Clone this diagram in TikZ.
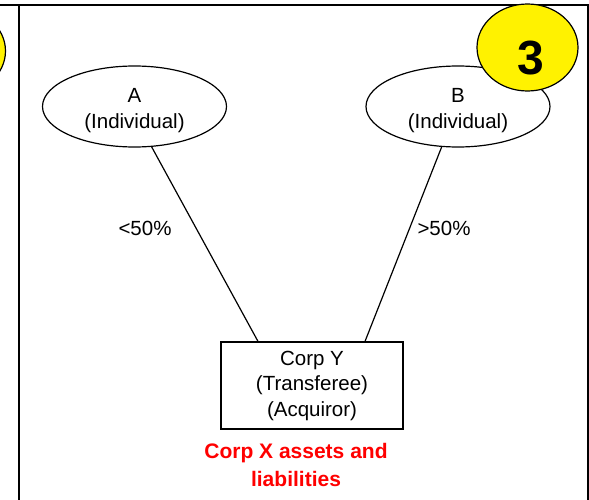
\documentclass[tikz,border=0pt]{standalone}
\usepackage{fontspec}
\setmainfont{Liberation Sans}
\usetikzlibrary{shapes.geometric}
\begin{document}
\begin{tikzpicture}[x=1pt,y=-1pt,
  every node/.style={font=\fontsize{20.5}{25.5}\selectfont, inner sep=0pt},
  person/.style={draw, ellipse, line width=1.2pt, minimum width=184pt, minimum height=81pt, align=center},
  badge/.style={draw, ellipse, fill=yellow, line width=1.2pt, minimum width=101pt, minimum height=87pt,
    font=\bfseries\fontsize{48}{50}\selectfont},
  corp/.style={draw, rectangle, line width=1.2pt, minimum width=182pt, minimum height=87pt, align=center},
  frameline/.style={line width=2pt},
  link/.style={line width=1.2pt},
  note/.style={text=red, font=\bfseries\fontsize{21}{27.5}\selectfont, align=center}]
\useasboundingbox (0,0) rectangle (589,500);
% partial badge of the previous panel
\begin{scope}
  \clip (0,0) rectangle (589,500);
  \node[badge] (prev) at (-45,51) {};
\end{scope}
% panel frame
\draw[frameline] (0,5) -- (589,5);
\draw[frameline] (18.5,5) -- (18.5,500);
\draw[frameline] (588,5) -- (588,500);
% nodes
\node[person] (A) at (134.5,106.5) {\rule{0pt}{22pt}A\\(Individual)};
\node[person] (B) at (458,106.5) {\rule{0pt}{22pt}B\\(Individual)};
\node[badge] (three) at (527.5,47.5) {\hspace*{7pt}\rule{0pt}{55pt}3};
\node[corp] (Y) at (312,385.5) {Corp Y\\(Transferee)\\(Acquiror)};
\node[note] (assets) at (296,465) {Corp X assets and\\liabilities};
\node (pa) at (145,228) {<50\%};
\node (pb) at (444,228) {>50\%};
% connectors
\draw[link] (A.-67) -- ([xshift=-54pt]Y.north);
\draw[link] (B.-112) -- ([xshift=53pt]Y.north);
\end{tikzpicture}
\end{document}
